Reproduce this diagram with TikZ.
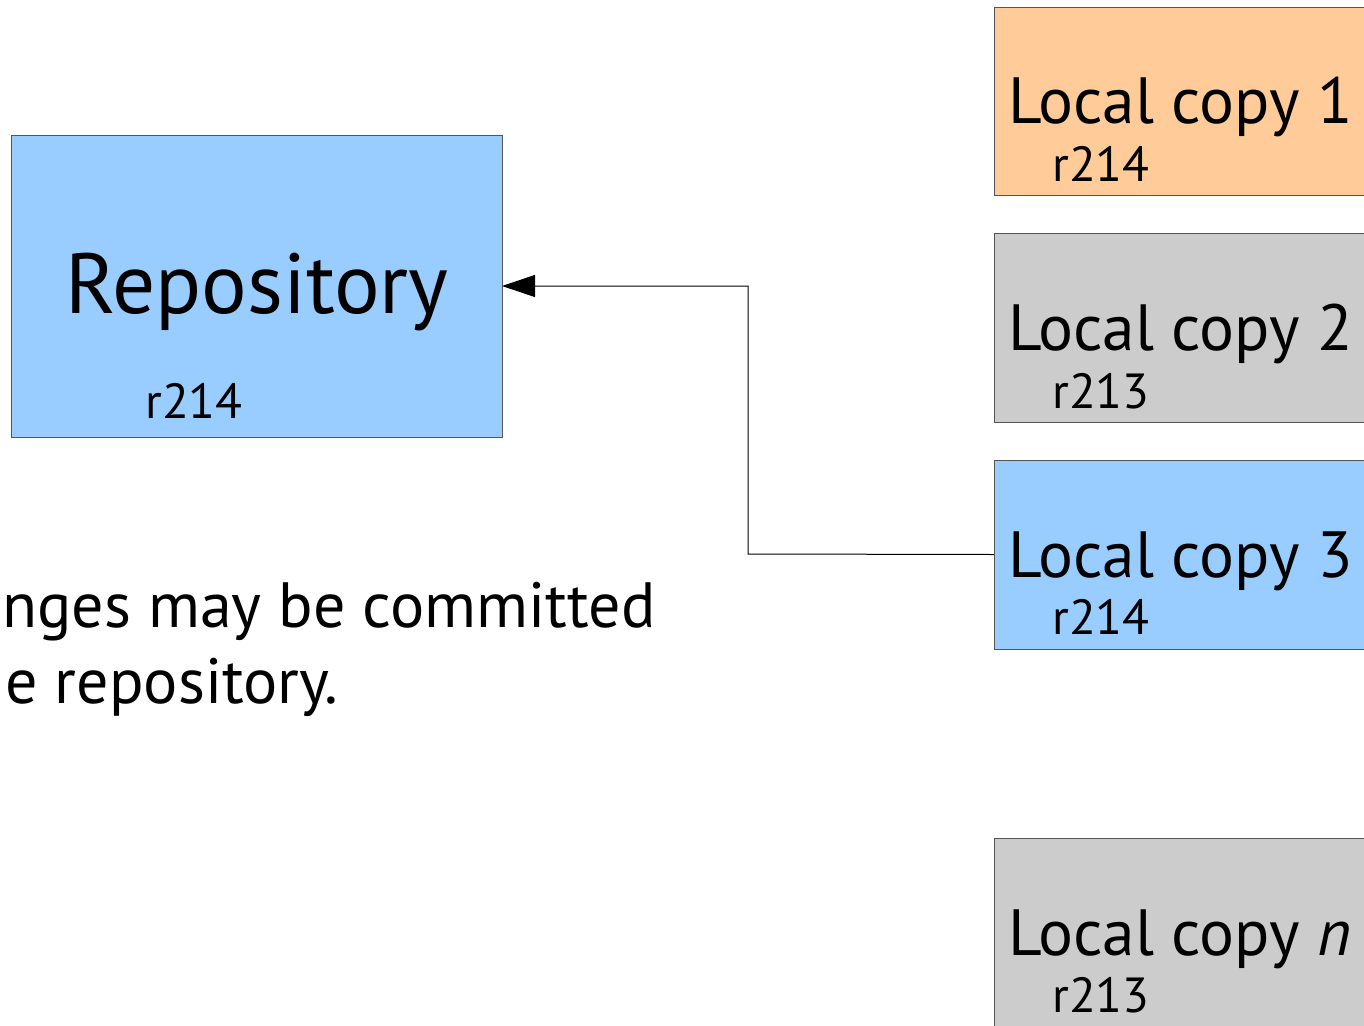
\documentclass[tikz,border=0pt]{standalone}
\usepackage{fontspec}
\setmainfont{PT Sans}
\usetikzlibrary{arrows.meta}
\definecolor{blueF}{HTML}{99CCFF}
\definecolor{orangeF}{HTML}{FFCC99}
\definecolor{grayF}{HTML}{CCCCCC}
\definecolor{edgeC}{HTML}{555555}
\tikzset{
  box/.style={draw=edgeC, line width=0.75pt, anchor=north west, inner sep=0pt, outer sep=0pt},
  lbl/.style={anchor=base west, inner sep=0pt, font=\fontsize{49}{58}\selectfont},
  rev/.style={anchor=base west, inner sep=0pt, font=\fontsize{37}{44}\selectfont},
  capt/.style={anchor=base west, inner sep=0pt, font=\fontsize{48}{58}\selectfont},
  conn/.style={draw=black, line width=0.75pt, -{Triangle[length=24.75pt,width=16.5pt]}}
}
\begin{document}
\begin{tikzpicture}[x=0.75pt,y=-0.75pt]
\useasboundingbox (0,0) rectangle (1364,1025);
\clip (0,0) rectangle (1364,1025);
% repository
\node[box, fill=blueF, minimum width=491*0.75pt, minimum height=302*0.75pt] (repo) at (11,135) {};
\node[anchor=base, inner sep=0pt, font=\fontsize{64}{76}\selectfont] (repotxt) at (257,313) {Repository};
\node[rev] (reporev) at (145,418) {r214};
% local copies
\node[box, fill=orangeF, minimum width=420*0.75pt, minimum height=188*0.75pt] (lc1) at (994,7) {};
\node[lbl] (lc1t) at (1008,123) {Local copy 1};
\node[rev] (lc1r) at (1052,181) {r214};
\node[box, fill=grayF, minimum width=420*0.75pt, minimum height=189*0.75pt] (lc2) at (994,233) {};
\node[lbl] (lc2t) at (1008,350) {Local copy 2};
\node[rev] (lc2r) at (1052,408) {r213};
\node[box, fill=blueF, minimum width=420*0.75pt, minimum height=189*0.75pt] (lc3) at (994,460) {};
\node[lbl] (lc3t) at (1008,577) {Local copy 3};
\node[rev] (lc3r) at (1052,634) {r214};
\node[box, fill=grayF, minimum width=420*0.75pt, minimum height=240*0.75pt] (lcn) at (994,838) {};
\node[lbl] (lcnt) at (1008,955) {Local copy \textit{n}};
\node[rev] (lcnr) at (1052,1012) {r213};
% caption
\node[capt] (cap1) at (2,627) {nges may be committed};
\node[capt] (cap2) at (5,703) {e repository.};
% connector
\coordinate (bend) at (748,554);
\draw[conn] (lc3.west) -- (bend) |- (repo.east);
\end{tikzpicture}
\end{document}
